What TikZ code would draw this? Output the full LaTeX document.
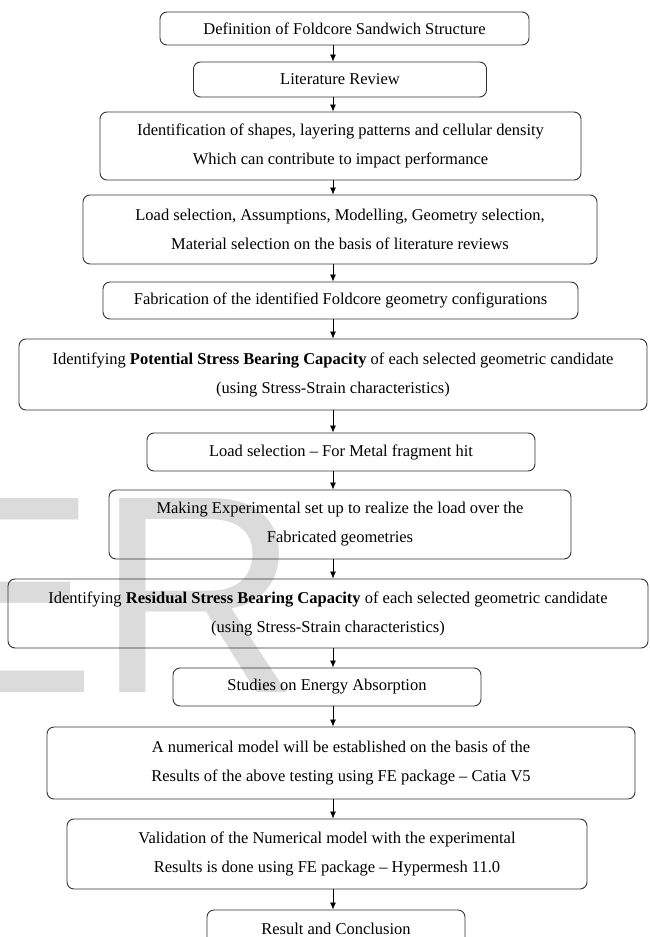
\documentclass[tikz,border=0pt]{standalone}
\usepackage{fontspec}
\usetikzlibrary{arrows.meta}
\setmainfont{Liberation Serif}
\newfontfamily\markfont{Liberation Sans}
\begin{document}
\begin{tikzpicture}[x=1pt, y=-1pt, auto, thick]
\tikzstyle{stepbox}=[draw=black!80, line width=0.9pt, rounded corners=7pt, align=center, inner sep=0pt, font=\fontsize{16.5}{29}\selectfont]
\tikzstyle{flow}=[-{Latex[length=7pt,width=6pt]}, thick, black]
\useasboundingbox (0,0) rectangle (649,937);
\clip (0,0) rectangle (649,937);

% watermark behind the chart
\node[anchor=base west, inner sep=0pt, text=black!14, font=\markfont\fontsize{282}{282}\selectfont] (Mark) at (-92,692) {ER};

\coordinate (Spine) at (333,0);

\node[stepbox, minimum width=369pt, minimum height=33pt] (Step-1) at (344.5,28.5) {Definition of Foldcore Sandwich Structure};
\node[stepbox, minimum width=293pt, minimum height=35pt] (Step-2) at (340,79.5) {Literature Review};
\node[stepbox, minimum width=481pt, minimum height=68pt] (Step-3) at (340.5,146) {Identification of shapes, layering patterns and cellular density\\Which can contribute to impact performance};
\node[stepbox, minimum width=514pt, minimum height=69pt] (Step-4) at (340,229.5) {Load selection, Assumptions, Modelling, Geometry selection,\\Material selection on the basis of literature reviews};
\node[stepbox, minimum width=475pt, minimum height=37pt] (Step-5) at (340.5,300.5) {Fabrication of the identified Foldcore geometry configurations};
\node[stepbox, minimum width=628pt, minimum height=71pt] (Step-6) at (333,374.5) {Identifying \textbf{Potential Stress Bearing Capacity} of each selected geometric candidate\\(using Stress-Strain characteristics)};
\node[stepbox, minimum width=388pt, minimum height=38pt] (Step-7) at (341,452) {Load selection -- For Metal fragment hit};
\node[stepbox, minimum width=462pt, minimum height=69pt] (Step-8) at (340,524.5) {Making Experimental set up to realize the load over the\\Fabricated geometries};
\node[stepbox, minimum width=640pt, minimum height=69pt] (Step-9) at (328,613.5) {Identifying \textbf{Residual Stress Bearing Capacity} of each selected geometric candidate\\(using Stress-Strain characteristics)};
\node[stepbox, minimum width=308pt, minimum height=38pt] (Step-10) at (327,687) {Studies on Energy Absorption};
\node[stepbox, minimum width=588pt, minimum height=72pt] (Step-11) at (341,763) {A numerical model will be established on the basis of the\\Results of the above testing using FE package -- Catia V5};
\node[stepbox, minimum width=520pt, minimum height=70pt] (Step-12) at (327,854) {Validation of the Numerical model with the experimental\\Results is done using FE package -- Hypermesh 11.0};
\node[stepbox, minimum width=258pt, minimum height=38pt] (Step-13) at (336,929) {Result and Conclusion};

\draw[flow] (Step-1.south -| Spine) -- (Step-2.north -| Spine);
\draw[flow] (Step-2.south -| Spine) -- (Step-3.north -| Spine);
\draw[flow] (Step-3.south -| Spine) -- (Step-4.north -| Spine);
\draw[flow] (Step-4.south -| Spine) -- (Step-5.north -| Spine);
\draw[flow] (Step-5.south -| Spine) -- (Step-6.north -| Spine);
\draw[flow] (Step-6.south -| Spine) -- (Step-7.north -| Spine);
\draw[flow] (Step-7.south -| Spine) -- (Step-8.north -| Spine);
\draw[flow] (Step-8.south -| Spine) -- (Step-9.north -| Spine);
\draw[flow] (Step-9.south -| Spine) -- (Step-10.north -| Spine);
\draw[flow] (Step-10.south -| Spine) -- (Step-11.north -| Spine);
\draw[flow] (Step-11.south -| Spine) -- (Step-12.north -| Spine);
\draw[flow] (Step-12.south -| Spine) -- (Step-13.north -| Spine);
\end{tikzpicture}
\end{document}
